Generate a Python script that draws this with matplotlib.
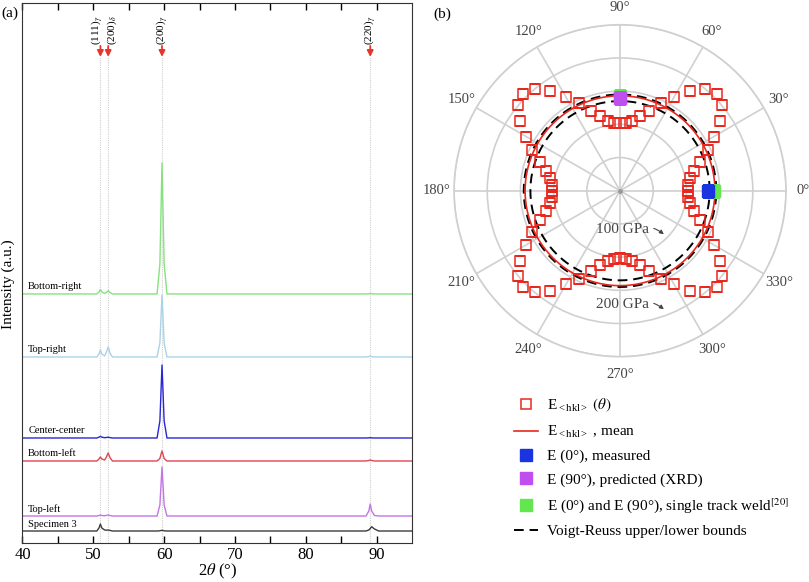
import numpy as np
import matplotlib
matplotlib.use('Agg')
import matplotlib.pyplot as plt

plt.rcParams['font.family'] = ['Liberation Serif', 'DejaVu Serif']
plt.rcParams['mathtext.fontset'] = 'stix'

# ---- (a) XRD patterns ----
two_theta = [40.0, 50.5, 50.8, 51.0, 51.2, 51.6, 51.85, 52.1, 52.35, 52.7,
             59.0, 59.4, 59.55, 59.7, 59.85, 60.0, 60.4,
             88.5, 88.9, 89.1, 89.3, 89.7, 90.3, 95.0]
bottom_right = [0, 0, 2, 4.5, 2, 0.5, 1.5, 3.3, 1.5, 0, 0, 30, 80, 131, 80, 30, 0, 0, 0.2, 0.5, 0.2, 0, 0, 0]
top_right = [0, 0, 3, 7, 3, 1, 5, 10, 4, 0, 0, 14, 38, 62, 38, 14, 0, 0, 0.4, 1, 0.4, 0, 0, 0]
center_center = [0, 0, 0.8, 1.7, 0.8, 0.3, 0.5, 0.8, 0.4, 0, 0, 17, 45, 73, 45, 17, 0, 0, 0.1, 0.3, 0.1, 0, 0, 0]
bottom_left = [0, 0, 2, 4, 2, 1, 4, 8, 3.5, 0, 0, 2.5, 6.5, 10, 6.5, 2.5, 0, 0, 0.5, 1, 0.5, 0, 0, 0]
top_left = [0, 0, 0.5, 1, 0.5, 0.3, 0.6, 1, 0.5, 0, 0, 11, 30, 49, 30, 11, 0, 0, 5, 12, 5, 0.5, 0, 0]
specimen3 = [0, 0, 3, 7, 3, 1, 0.8, 1, 0.6, 0, 0, 0.2, 0.5, 0.7, 0.5, 0.2, 0, 0, 1, 2.5, 4.3, 2, 0, 0]

traces = [bottom_right, top_right, center_center, bottom_left, top_left, specimen3]
names = ['Bottom-right', 'Top-right', 'Center-center', 'Bottom-left', 'Top-left', 'Specimen 3']
offsets = [249, 186, 105, 82, 27, 12]
colors = ['#86e27e', '#aad3ea', '#2727d6', '#e24452', '#c474e4', '#3c3c3c']

peak_pos = [51.0, 52.1, 59.7, 89.1]
peak_label_x = [50.5, 52.65, 59.7, 89.1]
peak_labels = [r'(111)$_{\gamma}$', r'(200)$_{\delta}$', r'(200)$_{\gamma}$', r'(220)$_{\gamma}$']

# ---- (b) elastic modulus polar data ----
theta_deg = np.arange(0, 360, 5)
E_hkl = [102, 103, 107, 116, 128, 146, 163, 184, 200, 206, 200, 184, 163, 146, 128, 116, 107, 103,
         102, 103, 107, 116, 128, 146, 163, 184, 200, 206, 200, 184, 163, 146, 128, 116, 107, 103,
         102, 103, 107, 116, 128, 146, 163, 184, 200, 206, 200, 184, 163, 146, 128, 116, 107, 103,
         102, 103, 107, 116, 128, 146, 163, 184, 200, 206, 200, 184, 163, 146, 128, 116, 107, 103]
E_mean = 143
E_voigt = 145
E_reuss = 135
E_measured_0 = 133
E_predicted_90 = 139
E_weld = 142

fig = plt.figure(figsize=(8.09, 5.82), dpi=100)

ax = fig.add_axes([0.0278, 0.067, 0.4815, 0.928])
for y, off, c in zip(traces, offsets, colors):
    ax.plot(two_theta, np.array(y) + off, color=c, lw=1.0)
for name, off in zip(names, offsets):
    ax.text(40.8, off + 2.5, name, fontsize=7.5, va='bottom', ha='left')
for p, px, lab in zip(peak_pos, peak_label_x, peak_labels):
    ax.plot([p, p], [0, 486], color='#cfcfcf', lw=0.8, ls=(0, (1, 1)), zorder=0)
    ax.annotate('', xy=(p, 486), xytext=(p, 497),
                arrowprops=dict(arrowstyle='-|>', color='#e8352a', lw=1.3, mutation_scale=9,
                                shrinkA=0, shrinkB=0))
    ax.text(px, 498, lab, rotation=90, ha='center', va='bottom', fontsize=8)
ax.set_xlim(40, 95)
ax.set_ylim(0, 540)
ax.set_xticks([40, 50, 60, 70, 80, 90])
ax.set_xticks([45, 55, 65, 75, 85], minor=True)
ax.set_yticks([])
ax.tick_params(axis='x', which='both', direction='in', top=True, bottom=True, length=5,
               width=1, labelsize=12, pad=3)
for s in ax.spines.values():
    s.set_color('#333333')
ax.set_xlabel(r'2$\theta$ (°)', fontsize=12, labelpad=-1)
ax.set_ylabel('Intensity (a.u.)', fontsize=11)
ax.yaxis.set_label_coords(-0.019, 0.48)
fig.text(0.002, 1 - 13 / 582, '(a)', fontsize=11, va='center')

# ---- polar panel ----
pax = fig.add_axes([0.5612, 0.3871, 0.4104, 0.5704], projection='polar')
th = np.deg2rad(theta_deg)
circ = np.linspace(0, 2 * np.pi, 361)
l_reuss, = pax.plot(circ, np.full_like(circ, E_reuss), color='k', lw=1.4, ls=(0, (5, 3)))
l_voigt, = pax.plot(circ, np.full_like(circ, E_voigt), color='k', lw=1.4, ls=(0, (5, 3)),
                    label='Voigt-Reuss upper/lower bounds')
l_mean, = pax.plot(circ, np.full_like(circ, E_mean), color='#e8281e', lw=1.2,
                   label=r'E$_{\mathregular{{<}hkl{>}}}$ , mean')
l_hkl, = pax.plot(th, E_hkl, ls='none', marker='s', ms=7, mfc='none', mec='#e8281e', mew=1.1,
                  label=r'E$_{\mathregular{{<}hkl{>}}}$ $(\theta)$')
l_weld, = pax.plot(np.deg2rad([0, 90]), [E_weld, E_weld], ls='none', marker='s', ms=9,
                   color='#62e84e', label='E (0°) and E (90°), single track weld$^{[20]}$')
l_meas, = pax.plot([0], [E_measured_0], ls='none', marker='s', ms=9, color='#1a34e0',
                   label='E (0°), measured')
l_pred, = pax.plot([np.pi / 2], [E_predicted_90], ls='none', marker='s', ms=9, color='#c04ff0',
                   label='E (90°), predicted (XRD)')
pax.plot([0], [0], marker='o', ms=2.5, color='#999999')
pax.set_ylim(0, 250)
pax.set_yticks([50, 100, 150, 200, 250])
pax.set_yticklabels([])
pax.set_thetagrids(np.arange(0, 360, 30), labels=[f'{a}°' for a in range(0, 360, 30)])
pax.tick_params(axis='x', labelsize=10.5, labelcolor='#444444', pad=2)
pax.grid(color='#d0d0d0', lw=1.2)
pax.spines['polar'].set_color('#d0d0d0')
pax.spines['polar'].set_linewidth(1.2)

for txt, ypx in [('100 GPa', 230), ('200 GPa', 305)]:
    fig.text(622 / 809, 1 - ypx / 582, txt, fontsize=11, color='#444444', ha='center', va='center')
    fig.patches.append(matplotlib.patches.FancyArrowPatch(
        (651 / 809, 1 - (ypx - 2) / 582), (666 / 809, 1 - (ypx + 6) / 582),
        transform=fig.transFigure, arrowstyle='-|>', mutation_scale=6,
        connectionstyle='angle3,angleA=0,angleB=-40', color='#444444', lw=0.8))
fig.text(433 / 809, 1 - 14 / 582, '(b)', fontsize=11, va='center')

fig.legend(handles=[l_hkl, l_mean, l_meas, l_pred, l_weld, l_voigt], loc='upper left',
           bbox_to_anchor=(514 / 809, 1 - 397 / 582), frameon=False, fontsize=11,
           handlelength=1.6, handletextpad=0.55, labelspacing=0.62, borderpad=0, borderaxespad=0)

plt.savefig('out.png', dpi=100)
